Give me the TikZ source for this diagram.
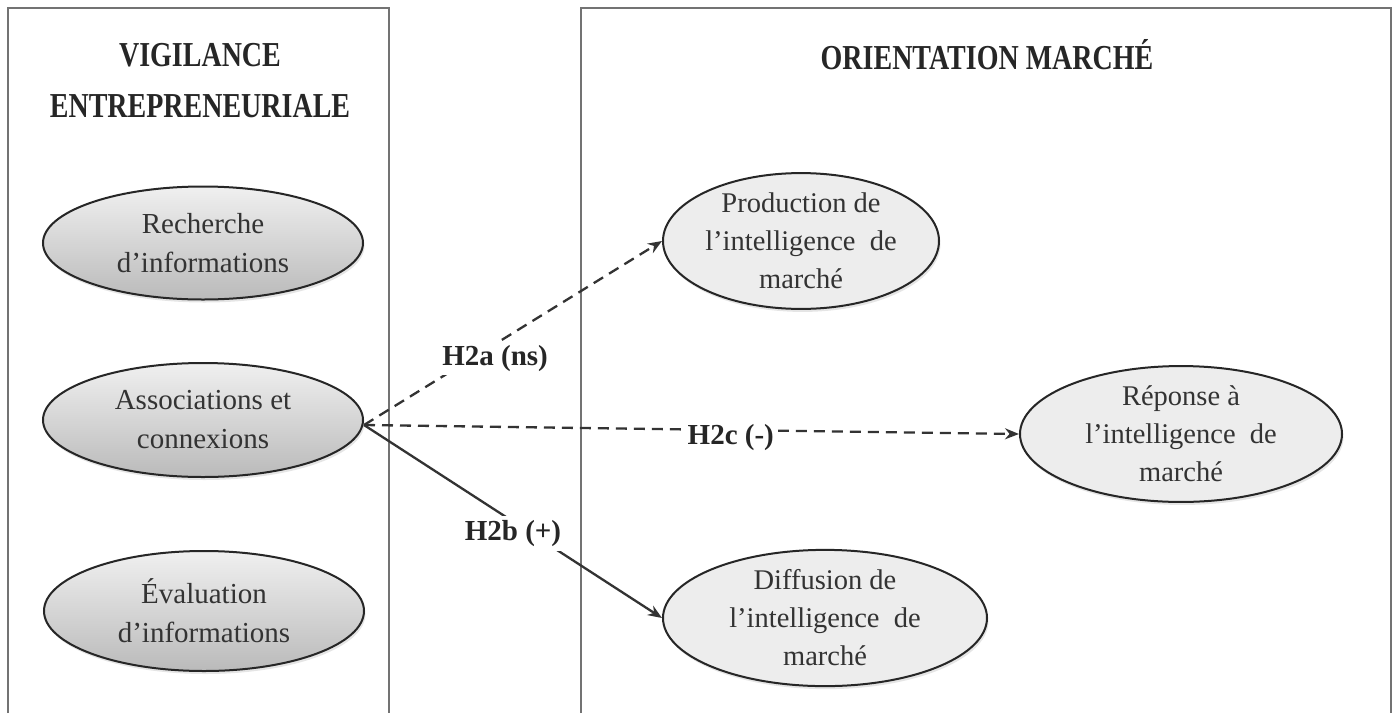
\documentclass[tikz,border=0pt]{standalone}
\usepackage{fontspec}
\setmainfont{Liberation Serif}
\usetikzlibrary{arrows.meta,shapes.geometric,shadows}
\newcommand{\tallbox}[1]{\scalebox{1}[1.25]{#1}}
\begin{document}
\begin{tikzpicture}[x=1pt,y=-1pt,
  frame/.style={draw=black!55,line width=1.5pt},
  title/.style={font=\fontsize{28}{30}\selectfont\bfseries,text=black!85},
  softshadow/.style={drop shadow={opacity=0.2,shadow xshift=1.5pt,shadow yshift=-3pt}},
  leftell/.style={ellipse,draw=black!85,line width=2pt,top color=black!6,bottom color=black!27,
     softshadow,minimum width=320pt,minimum height=#1,inner sep=0pt,align=center,text=black!80,
     font=\fontsize{29}{39}\selectfont},
  rightell/.style={ellipse,draw=black!85,line width=2pt,fill=black!7,softshadow,
     inner sep=0pt,align=center,text=black!80,font=\fontsize{28.5}{38}\selectfont},
  lab/.style={font=\fontsize{29}{30}\selectfont\bfseries,text=black!85,fill=white,inner sep=4pt},
  conn/.style={line width=2.3pt,draw=black!80,-{Stealth[length=14pt,width=11pt]}},
  dashedconn/.style={conn,dash pattern=on 11pt off 7pt}
]
\useasboundingbox (0,0) rectangle (1393,713);
\fill[white] (0,0) rectangle (1393,713);
% frames
\draw[frame] (8,713) -- (8,8) -- (389,8) -- (389,713);
\draw[frame] (581,713) -- (581,8) -- (1391,8) -- (1391,713);
% titles
\node[title] (t1) at (200,55) {\tallbox{VIGILANCE}};
\node[title] (t2) at (200,106) {\tallbox{ENTREPRENEURIALE}};
\node[title] (t3) at (987,55) {\tallbox{ORIENTATION MARCHÉ}};
% left ellipses
\node[leftell=113pt] (rech) at (203,243) {Recherche\\d’informations};
\node[leftell=114pt] (assoc) at (203,420) {Associations et\\connexions};
\node[leftell=120pt] (eval) at (204,611) {Évaluation\\d’informations};
% right ellipses
\node[rightell,minimum width=276pt,minimum height=126pt] (prod) at (801,241) {Production de\\l’intelligence~ de\\marché};
\node[rightell,minimum width=322pt,minimum height=128pt] (rep) at (1181,434) {Réponse à\\l’intelligence~ de\\marché};
\node[rightell,minimum width=324pt,minimum height=130pt] (diff) at (825,618) {Diffusion de\\l’intelligence~ de\\marché};
% connectors
\coordinate (src) at (364,425);
\draw[dashedconn] (src) -- node[lab,pos=0.44,yshift=-14pt] {H2a (ns)} (prod.west);
\draw[dashedconn] (src) -- node[lab,pos=0.56,yshift=-7pt] {H2c (-)} (rep.west);
\draw[conn] (src) -- node[lab,pos=0.5,yshift=-12pt] {H2b (+)} (diff.west);
\end{tikzpicture}
\end{document}
